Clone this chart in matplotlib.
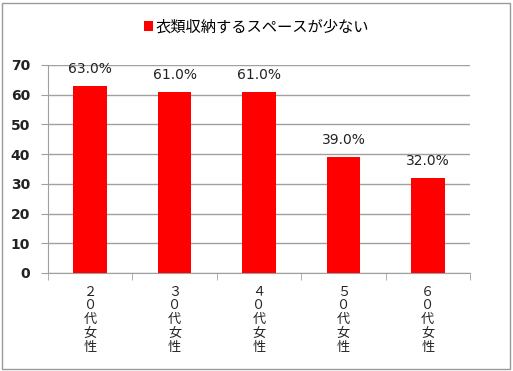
import matplotlib.pyplot as plt
from matplotlib.patches import Rectangle

categories = ["２０代女性", "３０代女性", "４０代女性", "５０代女性", "６０代女性"]
values = [63.0, 61.0, 61.0, 39.0, 32.0]
series_name = "衣類収納するスペースが少ない"

plt.rcParams['font.family'] = ['Noto Sans CJK JP', 'DejaVu Sans']

fig = plt.figure(figsize=(5.13, 3.71), dpi=100)
ax = fig.add_axes([48 / 513, 1 - 273 / 371, 422 / 513, 208 / 371])

x = list(range(len(categories)))
bars = ax.bar(x, values, width=0.4, color="#ff0000", zorder=3)

for b, v in zip(bars, values):
    ax.annotate(f"{v:.1f}%", xy=(b.get_x() + b.get_width() / 2, v),
                xytext=(0, 7), textcoords="offset points",
                ha="center", va="bottom", fontsize=10,
                family="DejaVu Sans", color="#222222", zorder=4)

ax.set_xlim(-0.5, len(categories) - 0.5)
ax.set_ylim(0, 70)
ax.set_yticks(range(0, 71, 10))
ax.yaxis.grid(True, color="#a0a0a0", linewidth=1, zorder=0)

for s in ["top", "right"]:
    ax.spines[s].set_visible(False)
for s in ["left", "bottom"]:
    ax.spines[s].set_color("#a0a0a0")

ax.tick_params(axis="y", length=5, color="#a0a0a0", labelsize=10, pad=8)
for lab in ax.get_yticklabels():
    lab.set_family("DejaVu Sans")
    lab.set_fontweight("bold")
    lab.set_color("#222222")

# vertical labels, one character per line
ax.set_xticks(x)
ax.set_xticklabels(["\n".join(c) for c in categories], fontsize=9.5,
                   linespacing=1.08, va="top", color="#222222")
ax.tick_params(axis="x", which="major", length=0, pad=9)
ax.set_xticks([i + 0.5 for i in range(-1, len(categories))], minor=True)
ax.tick_params(axis="x", which="minor", length=5, color="#a0a0a0")

handle = Rectangle((0, 0), 1, 1, facecolor="#ff0000")
fig.legend([handle], [series_name], loc="center", bbox_to_anchor=(0.5, 1 - 27 / 371),
           frameon=False, fontsize=11, handlelength=0.6, handleheight=0.6,
           handletextpad=0.2)

fig.patches.append(Rectangle((2 / 513, 2 / 371), 508 / 513, 366 / 371,
                             transform=fig.transFigure, fill=False,
                             edgecolor="#999999", linewidth=1))

fig.savefig("out.png", dpi=100)
